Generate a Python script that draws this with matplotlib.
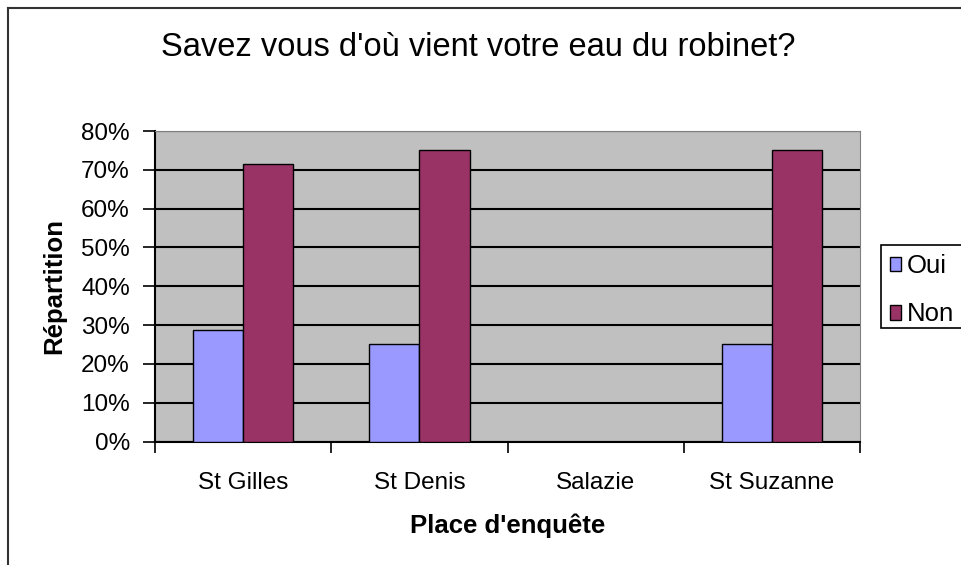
import matplotlib.pyplot as plt
import numpy as np
from matplotlib.lines import Line2D
from matplotlib.patches import Rectangle

plt.rcParams['font.family'] = ['Liberation Sans', 'DejaVu Sans']

places = ['St Gilles', 'St Denis', 'Salazie', 'St Suzanne']
oui = [28.6, 25.0, 0.0, 25.0]
non = [71.4, 75.0, 0.0, 75.0]
yticks = [0, 10, 20, 30, 40, 50, 60, 70, 80]

col_oui = '#9999FF'
col_non = '#993366'

fig = plt.figure(figsize=(9.62, 5.65), dpi=100)
ax = fig.add_axes([155/962, 1 - 441.5/565, 705/962, 310.5/565])
ax.set_facecolor('#C0C0C0')

x = np.arange(len(places))
w = 1 / 3.5
ax.bar(x - w/2, oui, w, color=col_oui, edgecolor='black', linewidth=1, label='Oui', zorder=3)
ax.bar(x + w/2, non, w, color=col_non, edgecolor='black', linewidth=1, label='Non', zorder=3)

ax.set_xlim(-0.5, len(places) - 0.5)
ax.set_ylim(0, 80)
ax.set_yticks(yticks)
ax.set_yticklabels([str(v) + '%' for v in yticks], fontsize=17.5)
ax.yaxis.grid(True, color='black', linewidth=1.5, zorder=1)
ax.set_axisbelow(True)

# categories between boundary ticks
ax.set_xticks(np.arange(len(places) + 1) - 0.5)
ax.set_xticklabels([])
ax.set_xticks(x, minor=True)
ax.set_xticklabels(places, minor=True, fontsize=17.5)
ax.tick_params(axis='x', which='minor', length=0, pad=22)
ax.tick_params(axis='x', which='major', length=8, width=1.2, direction='out')
ax.tick_params(axis='y', length=9, width=1.2, direction='out', pad=9)

for s in ['top', 'right']:
    ax.spines[s].set_color('#808080')
for s in ['left', 'bottom']:
    ax.spines[s].set_color('black')
    ax.spines[s].set_linewidth(1.5)

ax.set_xlabel("Place d'enquête", fontsize=18.5, fontweight='bold', labelpad=14)
ax.set_ylabel('Répartition', fontsize=18.5, fontweight='bold', labelpad=11)

fig.text(478/962, 1 - 47/565, "Savez vous d'où vient votre eau du robinet?",
         fontsize=23.5, ha='center', va='center')

# legend box runs past the right edge, like the original
fig.add_artist(Rectangle((881/962, 1 - 328/565), 100/962, 83/565,
                         transform=fig.transFigure, facecolor='white',
                         edgecolor='black', linewidth=1.2, zorder=2))
leg = fig.legend(loc='upper left', bbox_to_anchor=(881/962, 1 - 245/565),
                 fontsize=18.5, frameon=False,
                 handlelength=0.42, handleheight=0.5, handletextpad=0.25,
                 borderpad=0.35, labelspacing=0.95, borderaxespad=0)
leg.set_zorder(3)

# chart area border (top and left visible)
fig.add_artist(Line2D([8/962, 1], [1 - 8/565, 1 - 8/565], color='#333333', linewidth=1.5))
fig.add_artist(Line2D([8/962, 8/962], [0, 1 - 8/565], color='#333333', linewidth=1.5))

fig.savefig('out.png', dpi=100)
